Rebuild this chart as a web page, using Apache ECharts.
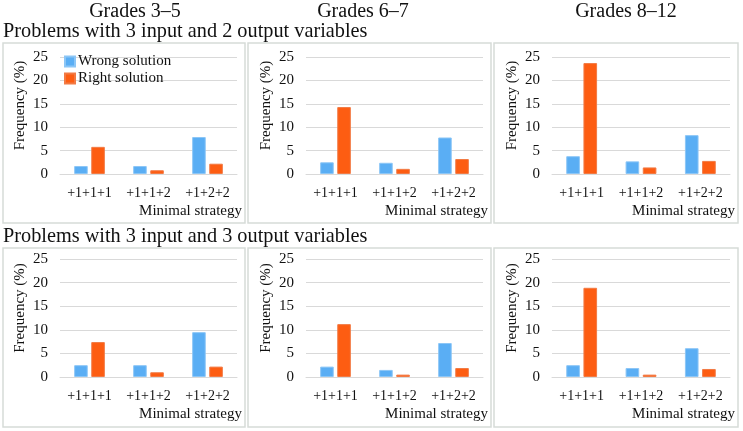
<!DOCTYPE html>
<html>
<head>
<meta charset="utf-8">
<script src="https://cdn.jsdelivr.net/npm/echarts@6/dist/echarts.min.js"></script>
<style>
html,body{margin:0;padding:0;background:#fff;}
#chart{width:743px;height:431px;}
</style>
</head>
<body>
<div id="chart"></div>
<script>
// ---- data ----
const categories = ['+1+1+1', '+1+1+2', '+1+2+2'];
const gradeTitles = ['Grades 3\u20135', 'Grades 6\u20137', 'Grades 8\u201312'];
const rowTitles = ['Problems with 3 input and 2 output variables', 'Problems with 3 input and 3 output variables'];
const seriesNames = ['Wrong solution', 'Right solution'];
const yTicks = { min: 0, max: 25, interval: 5 };

// 2 output variables
const wrong2out_g35  = [1.7, 1.7, 7.9];
const right2out_g35  = [5.8, 0.8, 2.2];
const wrong2out_g67  = [2.5, 2.4, 7.8];
const right2out_g67  = [14.3, 1.1, 3.2];
const wrong2out_g812 = [3.8, 2.7, 8.3];
const right2out_g812 = [23.7, 1.4, 2.8];
// 3 output variables
const wrong3out_g35  = [2.5, 2.5, 9.5];
const right3out_g35  = [7.4, 1.0, 2.2];
const wrong3out_g67  = [2.2, 1.5, 7.2];
const right3out_g67  = [11.2, 0.5, 1.9];
const wrong3out_g812 = [2.5, 1.9, 6.1];
const right3out_g812 = [18.9, 0.5, 1.7];

const panels = [
  [wrong2out_g35, right2out_g35], [wrong2out_g67, right2out_g67], [wrong2out_g812, right2out_g812],
  [wrong3out_g35, right3out_g35], [wrong3out_g67, right3out_g67], [wrong3out_g812, right3out_g812]
];

// ---- layout ----
const FONT = '"Liberation Serif", "Times New Roman", serif';
const TXT = '#111';
const gridLefts = [60, 306, 552];
const gridWidths = [177, 177, 178];
const gridTops = [57, 259];
const gridHeights = [117, 118];
const frameXs = [3, 248, 494];
const frameWs = [242, 243, 244];
const frameYs = [43, 248];
const frameHs = [180, 179];
const gradeCenters = [135, 363, 626];
const colors = ['#5aaef4', '#fd5d12'];
const borders = ['#8cc6f6', '#f27a44'];

const grids = [], xAxes = [], yAxes = [], series = [], graphics = [];
for (let i = 0; i < 6; i++) {
  const r = Math.floor(i / 3), c = i % 3;
  grids.push({ left: gridLefts[c], top: gridTops[r], width: gridWidths[c], height: gridHeights[r], containLabel: false });
  xAxes.push({
    type: 'category', gridIndex: i, data: categories,
    axisLine: { lineStyle: { color: '#d9d9d9', width: 1 } },
    axisTick: { show: false },
    axisLabel: { color: TXT, fontFamily: FONT, fontSize: 14, margin: 12 },
    name: 'Minimal strategy', nameLocation: 'end', nameGap: 5,
    nameTextStyle: { color: TXT, fontFamily: FONT, fontSize: 15, align: 'right', verticalAlign: 'top', padding: [30, 0, 0, 0] }
  });
  yAxes.push({
    type: 'value', gridIndex: i, min: yTicks.min, max: yTicks.max, interval: yTicks.interval,
    axisLine: { show: false }, axisTick: { show: false },
    splitLine: { lineStyle: { color: '#d9d9d9', width: 1 } },
    axisLabel: { color: TXT, fontFamily: FONT, fontSize: 15, margin: 12 },
    name: 'Frequency (%)', nameLocation: 'middle', nameGap: 32,
    nameTextStyle: { color: TXT, fontFamily: FONT, fontSize: 15, padding: [0, 0, 0, 20] }
  });
  for (let s = 0; s < 2; s++) {
    series.push({
      type: 'bar', name: seriesNames[s], xAxisIndex: i, yAxisIndex: i,
      data: panels[i][s], barWidth: '23%', barGap: '26%',
      itemStyle: { color: colors[s], borderColor: borders[s], borderWidth: 1 },
      silent: true
    });
  }
  graphics.push({
    type: 'rect', silent: true, z: -1,
    shape: { x: frameXs[c], y: frameYs[r], width: frameWs[c], height: frameHs[r] },
    style: { fill: 'none', stroke: '#d6dbd8', lineWidth: 1.5 }
  });
}

const titles = [];
for (let c = 0; c < 3; c++) {
  titles.push({ text: gradeTitles[c], left: gradeCenters[c], top: 2, textAlign: 'center', padding: 0,
    textStyle: { fontFamily: FONT, fontSize: 20, fontWeight: 'normal', color: TXT } });
}
titles.push({ text: rowTitles[0], left: 3, top: 22, padding: 0,
  textStyle: { fontFamily: FONT, fontSize: 20.3, fontWeight: 'normal', color: TXT } });
titles.push({ text: rowTitles[1], left: 3, top: 227, padding: 0,
  textStyle: { fontFamily: FONT, fontSize: 20.3, fontWeight: 'normal', color: TXT } });

const chart = echarts.init(document.getElementById('chart'), null, { renderer: 'canvas' });
chart.setOption({
  animation: false,
  backgroundColor: '#fff',
  title: titles,
  legend: {
    data: seriesNames, orient: 'vertical', left: 64, top: 54, padding: 0,
    itemWidth: 10, itemHeight: 10, itemGap: 2, icon: 'rect',
    textStyle: { fontFamily: FONT, fontSize: 15, color: TXT, padding: [0, 0, 0, -2] }
  },
  grid: grids, xAxis: xAxes, yAxis: yAxes, series: series,
  graphic: graphics
});
</script>
</body>
</html>
